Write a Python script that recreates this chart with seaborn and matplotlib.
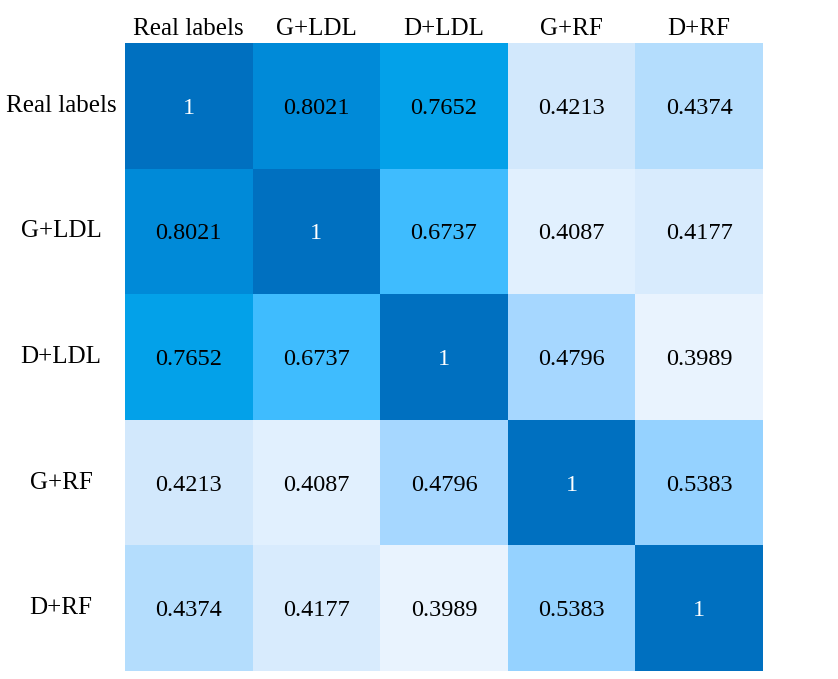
import numpy as np
import pandas as pd
import matplotlib
matplotlib.use("Agg")
import matplotlib.pyplot as plt
from matplotlib.colors import LinearSegmentedColormap
import seaborn as sns

sns.set_style("white")
plt.rcParams['font.family'] = ['Liberation Serif', 'DejaVu Serif']

labels = ["Real labels", "G+LDL", "D+LDL", "G+RF", "D+RF"]
row_real = [1, 0.8021, 0.7652, 0.4213, 0.4374]
row_gldl = [0.8021, 1, 0.6737, 0.4087, 0.4177]
row_dldl = [0.7652, 0.6737, 1, 0.4796, 0.3989]
row_grf = [0.4213, 0.4087, 0.4796, 1, 0.5383]
row_drf = [0.4374, 0.4177, 0.3989, 0.5383, 1]

df = pd.DataFrame([row_real, row_gldl, row_dldl, row_grf, row_drf],
                  index=labels, columns=labels)

# custom blue ramp, anchors picked to match the reference shades
vmin, vmax = 0.39, 1.0
stops = [(0.39, "#eef5fe"), (0.4087, "#e0effe"), (0.4213, "#d2e8fc"),
         (0.4374, "#b0dcfd"), (0.48, "#a6d7ff"), (0.54, "#94d2ff"),
         (0.67, "#42bdff"), (0.77, "#00a0e8"), (0.80, "#008ad8"),
         (1.0, "#0070c0")]
cmap = LinearSegmentedColormap.from_list(
  "blues_ref", [((v - vmin) / (vmax - vmin), c) for v, c in stops])

fig = plt.figure(figsize=(8.38, 6.79), dpi=100)
ax = fig.add_axes([125 / 838, 8 / 679, 638 / 838, 628 / 679])

sns.heatmap(df, ax=ax, cmap=cmap, vmin=vmin, vmax=vmax, cbar=False,
            annot=True, fmt="g", annot_kws={"fontsize": 17.5})

# white text on the diagonal, black elsewhere; nudge slightly down like the reference
for t in ax.texts:
  t.set_color("white" if t.get_text() == "1" else "black")
  t.set_y(t.get_position()[1] + 0.02)

ax.xaxis.tick_top()
ax.tick_params(axis="both", length=0, labelsize=18, labelcolor="black")
ax.tick_params(axis="x", pad=2)
ax.set_xticklabels(labels, rotation=0)
ax.set_yticklabels(labels, rotation=0, ha="center")
ax.tick_params(axis="y", pad=46)
ax.set_xlabel("")
ax.set_ylabel("")

fig.savefig("out.png", dpi=100)
